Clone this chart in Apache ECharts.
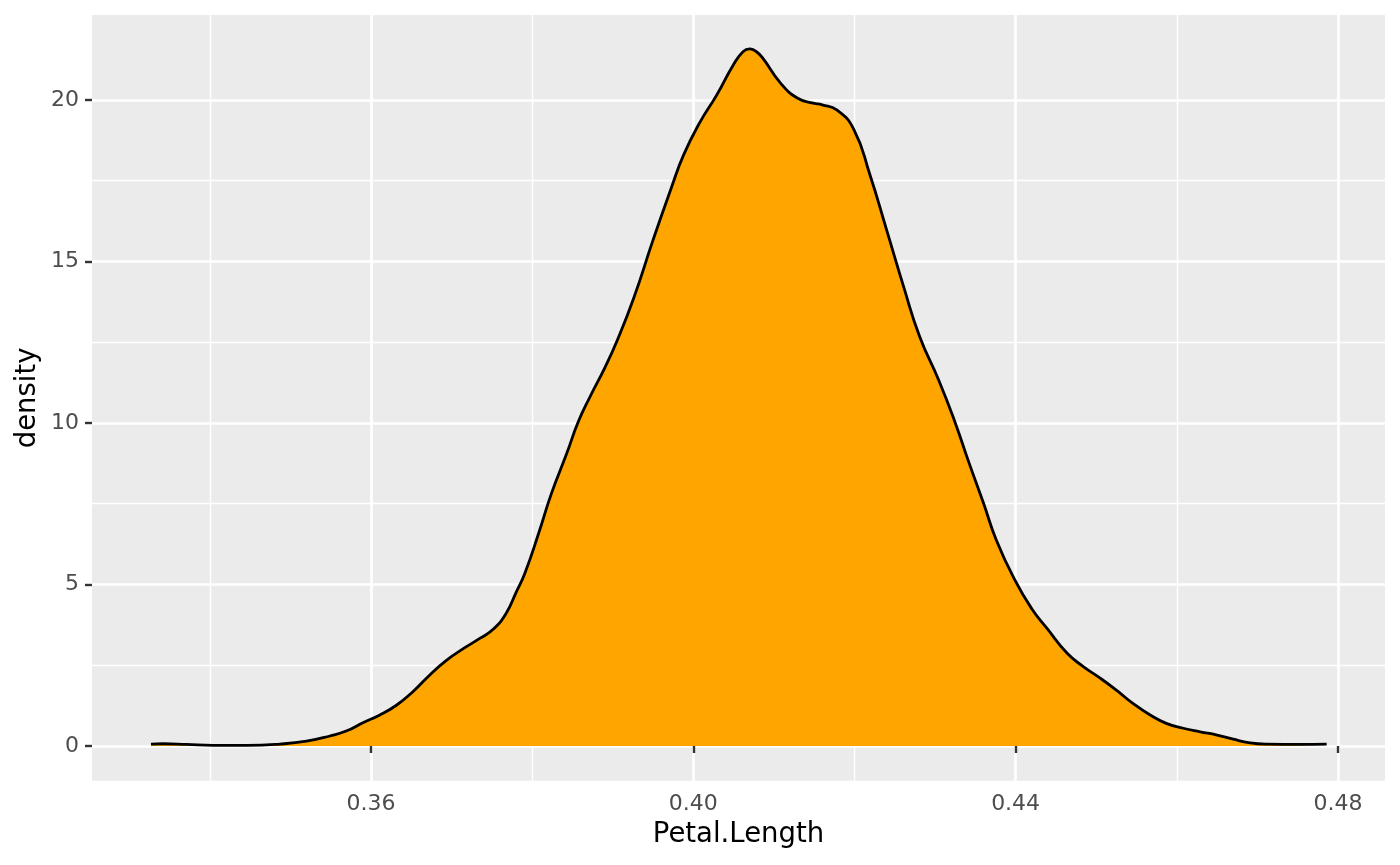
<!DOCTYPE html>
<html>
<head>
<meta charset="utf-8">
<script src="https://cdn.jsdelivr.net/npm/echarts@6/dist/echarts.min.js"></script>
<style>
html,body{margin:0;padding:0;background:#fff;}
#chart{width:1400px;height:865px;}
</style>
</head>
<body>
<div id="chart"></div>
<script>
// Density curve (x = Petal.Length, y = density)
const xValues = [0.3327,0.3342,0.3371,0.3404,0.3446,0.3487,0.3520,0.3549,0.3570,0.3590,0.3611,0.3632,0.3652,0.3673,0.3694,0.3715,0.3735,0.3752,0.3768,0.3780,0.3791,0.3808,0.3824,0.3843,0.3857,0.3872,0.3890,0.3905,0.3926,0.3950,0.3973,0.3988,0.4008,0.4029,0.4050,0.4062,0.4070,0.4078,0.4086,0.4108,0.4129,0.4149,0.4160,0.4178,0.4199,0.4219,0.4240,0.4261,0.4281,0.4305,0.4325,0.4341,0.4360,0.4376,0.4399,0.4420,0.4439,0.4464,0.4484,0.4505,0.4525,0.4546,0.4567,0.4587,0.4608,0.4629,0.4650,0.4670,0.4691,0.4712,0.4753,0.4786];
const densityValues = [0.06,0.07,0.05,0.02,0.02,0.06,0.15,0.31,0.47,0.72,0.96,1.27,1.68,2.20,2.66,3.02,3.33,3.62,4.12,4.75,5.35,6.58,7.82,9.06,10.02,10.82,11.70,12.52,13.86,15.66,17.30,18.30,19.30,20.15,21.10,21.50,21.58,21.50,21.30,20.53,20.06,19.90,19.85,19.69,19.10,17.70,15.97,14.22,12.67,11.30,10.01,8.85,7.53,6.38,5.14,4.25,3.64,2.87,2.46,2.10,1.73,1.31,0.96,0.70,0.55,0.44,0.34,0.21,0.10,0.06,0.05,0.06];
const xTicks = [0.36, 0.40, 0.44, 0.48];
const xMinorTicks = [0.34, 0.38, 0.42, 0.46];
const yTicks = [0, 5, 10, 15, 20];
const yMinorTicks = [2.5, 7.5, 12.5, 17.5];
const xName = 'Petal.Length';
const yName = 'density';

const xMin = 0.32538, xMax = 0.48584;
const yMin = -1.074, yMax = 22.63;

const seriesData = xValues.map((x, i) => [x, densityValues[i]]);
const font = 'DejaVu Sans';

const chart = echarts.init(document.getElementById('chart'), null, {renderer: 'canvas'});
chart.setOption({
  animation: false,
  backgroundColor: '#FFFFFF',
  grid: {
    left: 92, right: 15, top: 15, bottom: 84.3,
    show: true, backgroundColor: '#EBEBEB', borderWidth: 0,
    containLabel: false,
    outerBoundsMode: 'none'
  },
  xAxis: [
    {
      type: 'value', min: xMin, max: xMax,
      name: xName, nameLocation: 'middle', nameGap: 40, nameMoveOverlap: false,
      nameTextStyle: {fontFamily: font, fontSize: 27.5, color: '#000000'},
      axisLine: {show: false},
      axisTick: {show: true, length: 7, customValues: xTicks, lineStyle: {color: '#333333', width: 2.4}},
      axisLabel: {show: true, customValues: xTicks, margin: 13, fontFamily: font, fontSize: 22, color: '#4D4D4D',
        formatter: v => v.toFixed(2)},
      splitLine: {show: true, lineStyle: {color: '#FFFFFF', width: 2.7}},
      z: 1
    },
    {
      type: 'value', min: xMin, max: xMax, position: 'bottom',
      axisLine: {show: false},
      axisTick: {show: false, customValues: xMinorTicks},
      axisLabel: {show: false, customValues: xMinorTicks},
      splitLine: {show: true, lineStyle: {color: '#FFFFFF', width: 1.4}},
      z: 0
    }
  ],
  yAxis: [
    {
      type: 'value', min: yMin, max: yMax,
      name: yName, nameLocation: 'middle', nameGap: 50, nameRotate: 90, nameMoveOverlap: false,
      nameTextStyle: {fontFamily: font, fontSize: 27.5, color: '#000000'},
      axisLine: {show: false},
      axisTick: {show: true, length: 7, customValues: yTicks, lineStyle: {color: '#333333', width: 2.4}},
      axisLabel: {show: true, customValues: yTicks, margin: 13, fontFamily: font, fontSize: 22, color: '#4D4D4D',
        formatter: v => String(v)},
      splitLine: {show: true, lineStyle: {color: '#FFFFFF', width: 2.7}},
      z: 1
    },
    {
      type: 'value', min: yMin, max: yMax, position: 'left',
      axisLine: {show: false},
      axisTick: {show: false, customValues: yMinorTicks},
      axisLabel: {show: false, customValues: yMinorTicks},
      splitLine: {show: true, lineStyle: {color: '#FFFFFF', width: 1.4}},
      z: 0
    }
  ],
  series: [{
    type: 'line',
    xAxisIndex: 0, yAxisIndex: 0,
    data: seriesData,
    smooth: 0.5,
    showSymbol: false,
    symbol: 'none',
    lineStyle: {color: '#000000', width: 2.8},
    areaStyle: {color: '#FFA500', opacity: 1, origin: 'auto'},
    z: 5
  }]
});
</script>
</body>
</html>
